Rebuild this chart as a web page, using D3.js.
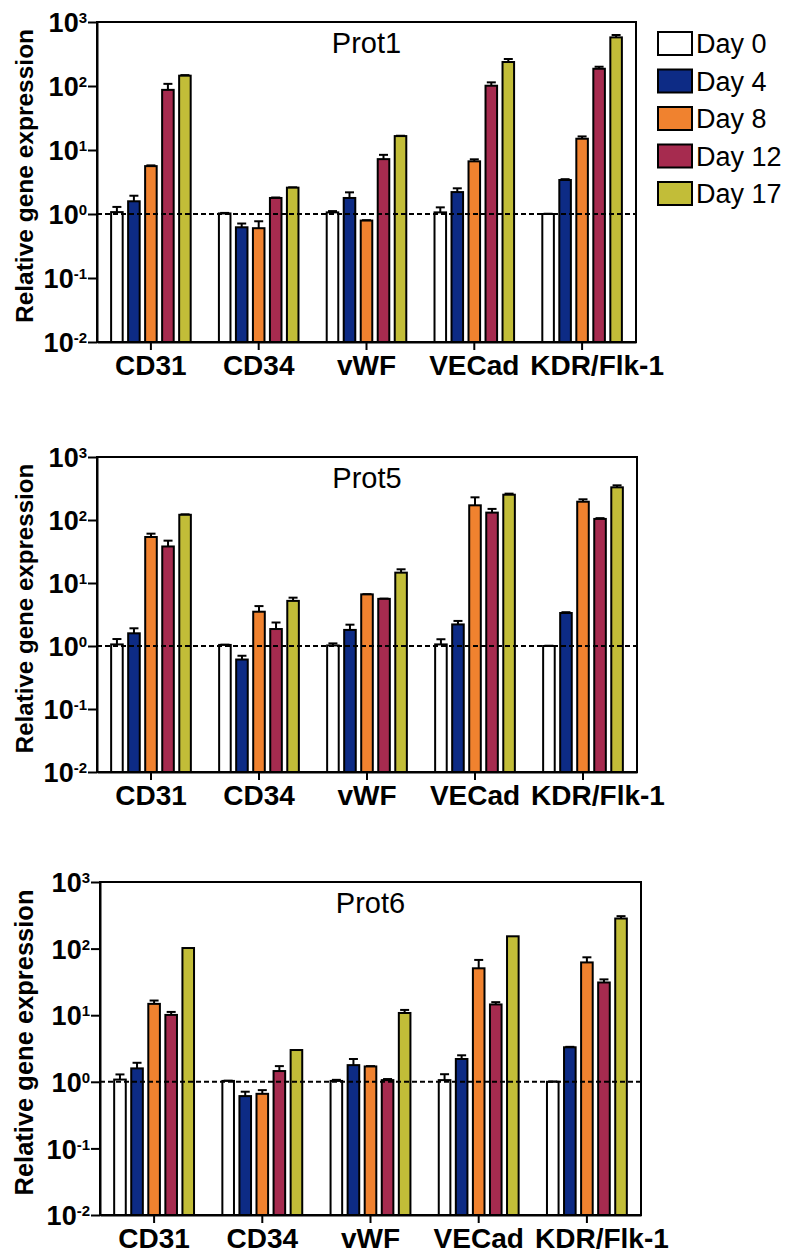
<!DOCTYPE html>
<html>
<head>
<meta charset="utf-8">
<script src="https://cdn.jsdelivr.net/npm/d3@7"></script>
<style>
  body { margin: 0; background: #fff; }
  svg { display: block; font-family: "Liberation Sans", Arial, Helvetica, sans-serif; }
</style>
</head>
<body>
<div id="chart"></div>
<script>
// gene groups and time points
var genes = ['CD31', 'CD34', 'vWF', 'VECad', 'KDR/Flk-1']
var days = ['Day 0', 'Day 4', 'Day 8', 'Day 12', 'Day 17']
var dayColors = ['#ffffff', '#0d2b85', '#f0822f', '#a62b4f', '#c2bd38']
var tickExponents = [-2, -1, 0, 1, 2, 3]

// mean relative expression, one row per gene, one column per day
var prot1 = [
  [1.07, 1.58, 5.6, 87, 145],
  [1.02, 0.62, 0.60, 1.78, 2.58],
  [1.06, 1.78, 0.79, 7.2, 16.5],
  [1.06, 2.2, 6.65, 101, 237],
  [1.0, 3.4, 15.0, 186, 575]
]
var prot1Err = [
  [0.22, 0.35, 0.15, 21, 3],
  [0.02, 0.09, 0.17, 0.03, 0.03],
  [0.05, 0.4, 0.01, 1.2, 0.2],
  [0.21, 0.32, 0.5, 13, 27],
  [0.01, 0.1, 1.3, 14, 52]
]
var prot5 = [
  [1.06, 1.59, 53.7, 38, 121],
  [1.04, 0.61, 3.5, 1.86, 5.2],
  [1.02, 1.8, 6.6, 5.6, 14.6],
  [1.06, 2.2, 171, 131, 252],
  [1.0, 3.34, 195, 104, 330]
]
var prot5Err = [
  [0.23, 0.32, 7, 9, 2],
  [0.01, 0.09, 0.8, 0.5, 0.65],
  [0.08, 0.38, 0.05, 0.05, 1.9],
  [0.22, 0.3, 58, 19, 10],
  [0.01, 0.1, 18, 3, 25]
]
var prot6 = [
  [1.08, 1.59, 14.8, 10.1, 102],
  [1.03, 0.61, 0.66, 1.45, 3.0],
  [1.03, 1.78, 1.70, 1.06, 10.8],
  [1.06, 2.2, 50.6, 14.5, 153],
  [1.0, 3.3, 62, 31, 283]
]
var prot6Err = [
  [0.21, 0.34, 1.8, 1.1, 0],
  [0.01, 0.1, 0.09, 0.27, 0],
  [0.04, 0.42, 0.02, 0.04, 1.2],
  [0.24, 0.3, 17, 1.2, 0],
  [0.01, 0.05, 12, 3.5, 24]
]

var
  WIDTH = 788,
  HEIGHT = 1254,
  LINE = 2

var panels = [
  { title: 'Prot1', means: prot1, errs: prot1Err, left: 97, right: 636, top: 22, bottom: 342 },
  { title: 'Prot5', means: prot5, errs: prot5Err, left: 97, right: 637, top: 457, bottom: 772 },
  { title: 'Prot6', means: prot6, errs: prot6Err, left: 100, right: 641, top: 882, bottom: 1215 }
]

var svg = d3.select('#chart').append('svg')
  .attr('width', WIDTH)
  .attr('height', HEIGHT)

panels.forEach(drawPanel)
drawLegend()

function drawPanel(p) {
  var g = svg.append('g')

  var x0 = d3.scaleBand().domain(genes).range([p.left, p.right])
  var x1 = d3.scaleBand().domain(days).range([0, x0.bandwidth()])
    .paddingInner(0.32).paddingOuter(0.83)
  var y = d3.scaleLog().domain([1e-2, 1e3]).range([p.bottom, p.top])

  var rows = []
  genes.forEach(function(gene, gi) {
    days.forEach(function(day, di) {
      rows.push({ gene: gene, day: day, di: di, v: p.means[gi][di], e: p.errs[gi][di] })
    })
  })

  // frame
  g.append('rect')
    .attr('x', p.left).attr('y', p.top)
    .attr('width', p.right - p.left).attr('height', p.bottom - p.top)
    .attr('fill', 'none').attr('stroke', '#000').attr('stroke-width', LINE)

  // error bars (upper only)
  var eb = g.selectAll('.err').data(rows.filter(function(d) { return d.e > 0 }))
    .enter().append('g').attr('class', 'err')
  eb.append('line')
    .attr('x1', function(d) { return x0(d.gene) + x1(d.day) + x1.bandwidth() / 2 })
    .attr('x2', function(d) { return x0(d.gene) + x1(d.day) + x1.bandwidth() / 2 })
    .attr('y1', function(d) { return y(d.v) })
    .attr('y2', function(d) { return y(d.v + d.e) })
    .attr('stroke', '#000').attr('stroke-width', LINE)
  eb.append('line')
    .attr('x1', function(d) { return x0(d.gene) + x1(d.day) + x1.bandwidth() / 2 - 4.5 })
    .attr('x2', function(d) { return x0(d.gene) + x1(d.day) + x1.bandwidth() / 2 + 4.5 })
    .attr('y1', function(d) { return y(d.v + d.e) })
    .attr('y2', function(d) { return y(d.v + d.e) })
    .attr('stroke', '#000').attr('stroke-width', LINE)

  // bars
  g.selectAll('.bar').data(rows).enter().append('rect')
    .attr('class', 'bar')
    .attr('x', function(d) { return x0(d.gene) + x1(d.day) })
    .attr('y', function(d) { return y(d.v) })
    .attr('width', x1.bandwidth())
    .attr('height', function(d) { return p.bottom - y(d.v) })
    .attr('fill', function(d) { return dayColors[d.di] })
    .attr('stroke', '#000').attr('stroke-width', LINE)

  // baseline at 1
  g.append('line')
    .attr('x1', p.left).attr('x2', p.right)
    .attr('y1', y(1)).attr('y2', y(1))
    .attr('stroke', '#000').attr('stroke-width', LINE)
    .attr('stroke-dasharray', '5,3')

  // y axis
  var yAxis = g.append('g')
    .attr('transform', 'translate(' + p.left + ',0)')
    .call(d3.axisLeft(y)
      .tickValues(tickExponents.map(function(k) { return Math.pow(10, k) }))
      .tickSize(9).tickSizeOuter(0).tickPadding(1)
      .tickFormat(''))
  yAxis.select('.domain').attr('stroke-width', LINE)
  yAxis.selectAll('.tick line').attr('stroke-width', LINE)
  yAxis.selectAll('.tick text')
    .attr('font-family', null)
    .attr('font-size', 27)
    .attr('font-weight', 'bold')
    .attr('dy', '0.36em')
    .each(function(d) {
      var t = d3.select(this)
      t.text(null)
      t.append('tspan').text('10')
      t.append('tspan').attr('font-size', 15).attr('dy', -9)
        .text(String(Math.round(Math.log10(d))))
    })

  // x axis
  var xAxis = g.append('g')
    .attr('transform', 'translate(0,' + p.bottom + ')')
    .call(d3.axisBottom(x0).tickSize(8).tickSizeOuter(0).tickPadding(5))
  xAxis.select('.domain').attr('stroke-width', LINE)
  xAxis.selectAll('.tick line').attr('stroke-width', LINE)
  xAxis.selectAll('.tick text')
    .attr('font-family', null)
    .attr('font-size', 28)
    .attr('font-weight', 'bold')
    .attr('dx', function(d, i) { return i === genes.length - 1 ? 15 : 0 })

  // axis title
  var fs = 24.5 * (p.bottom - p.top) / 320
  g.append('text')
    .attr('transform', 'translate(33,' + ((p.top + p.bottom) / 2 - 6) + ') rotate(-90)')
    .attr('text-anchor', 'middle')
    .attr('font-size', fs)
    .attr('font-weight', 'bold')
    .text('Relative gene expression')

  // panel title
  g.append('text')
    .attr('x', (p.left + p.right) / 2)
    .attr('y', p.top + 31)
    .attr('text-anchor', 'middle')
    .attr('font-size', 29)
    .text(p.title)
}

function drawLegend() {
  var lg = svg.append('g').attr('transform', 'translate(658,32)')
  var item = lg.selectAll('.item').data(days).enter().append('g')
    .attr('class', 'item')
    .attr('transform', function(d, i) { return 'translate(0,' + (i * 37.5) + ')' })
  item.append('rect')
    .attr('width', 34).attr('height', 23)
    .attr('fill', function(d, i) { return dayColors[i] })
    .attr('stroke', '#000').attr('stroke-width', LINE)
  item.append('text')
    .attr('x', 38).attr('y', 21)
    .attr('font-size', 27)
    .text(function(d) { return d })
}
</script>
</body>
</html>
